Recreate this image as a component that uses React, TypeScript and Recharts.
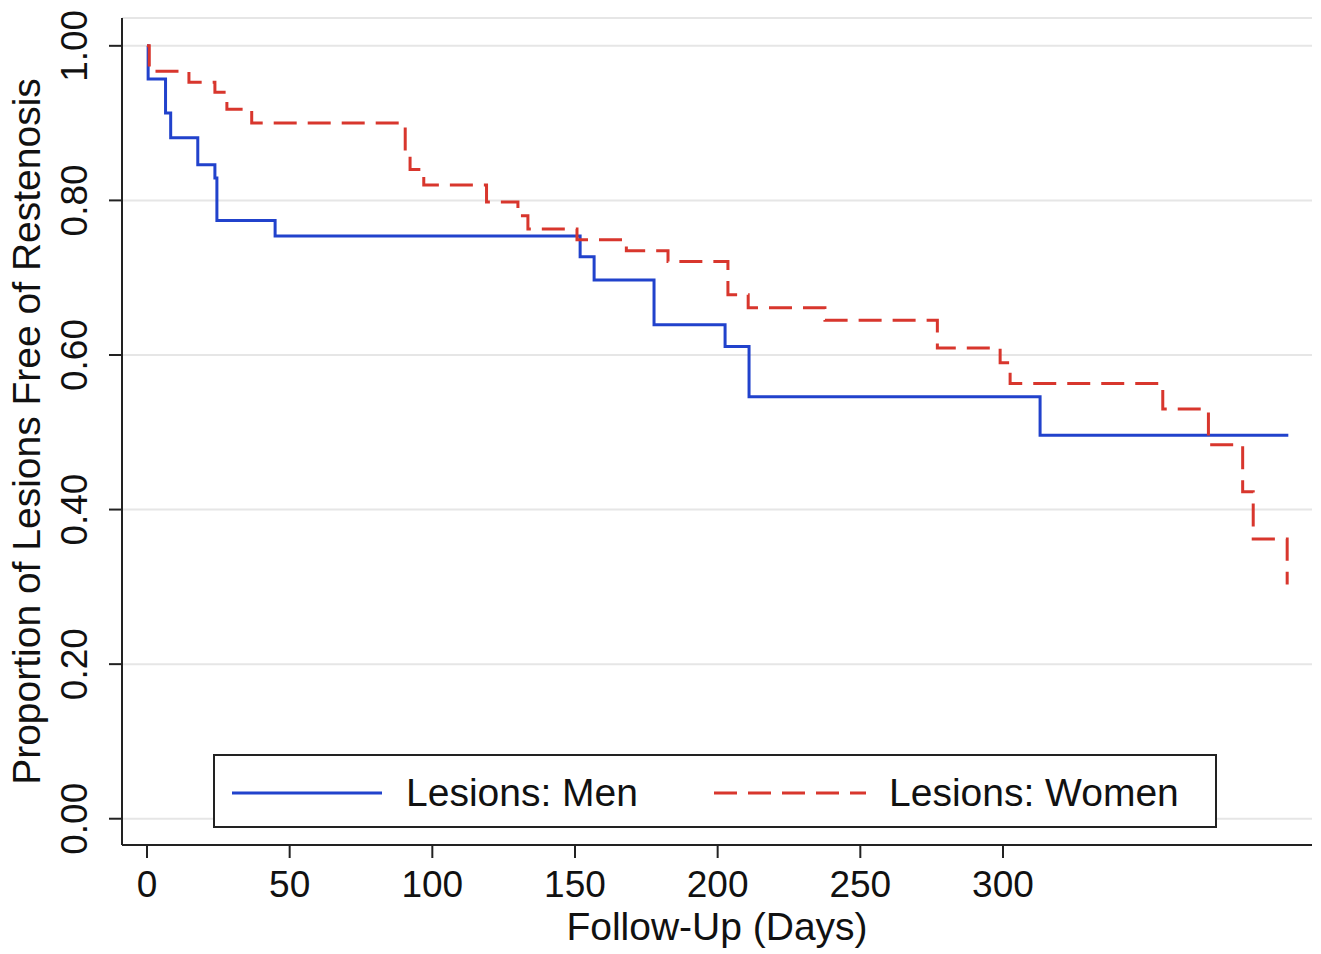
import { CartesianGrid, Legend, Line, LineChart, XAxis, YAxis } from "recharts";

// Kaplan-Meier estimates (day, proportion free of restenosis)
const menDays = [0, 0.4, 6.5, 8.3, 17.8, 23.8, 24.5, 44.9, 151.8, 156.7, 177.7, 202.6, 211, 313, 400];
const menSurv = [1.0, 0.957, 0.913, 0.881, 0.846, 0.829, 0.774, 0.754, 0.727, 0.697, 0.639, 0.611, 0.546, 0.496, 0.496];

const womenDays = [
  0, 0.8, 14.7, 23.8, 28, 36.7, 90.5, 92.2, 97, 119, 130, 133.5, 150.7, 168, 182.6, 203.6, 210.7, 237.6, 277, 299,
  302.5, 356, 372, 384, 387.7, 399.6,
];
const womenSurv = [
  1.0, 0.967, 0.953, 0.94, 0.918, 0.9, 0.862, 0.84, 0.82, 0.798, 0.78, 0.763, 0.749, 0.735, 0.721, 0.678, 0.661,
  0.645, 0.609, 0.59, 0.563, 0.53, 0.484, 0.423, 0.362, 0.303,
];

const xTicks = [0, 50, 100, 150, 200, 250, 300];
const yTicks = [0, 0.2, 0.4, 0.6, 0.8, 1.0];

const menData = menDays.map((t, i) => ({ t, s: menSurv[i] }));
const womenData = womenDays.map((t, i) => ({ t, s: womenSurv[i] }));

const FONT = "'Liberation Sans', Arial, Helvetica, sans-serif";
const BLUE = "#2142cc";
const RED = "#d8362d";
const INK = "#111";

function YTick({ x, y, payload }: any) {
  const bx = x - 22;
  return (
    <text
      x={bx}
      y={y}
      transform={`rotate(-90, ${bx}, ${y})`}
      textAnchor="middle"
      fontSize={37}
      fontFamily={FONT}
      fill={INK}
    >
      {Number(payload.value).toFixed(2)}
    </text>
  );
}

function YLabel({ viewBox }: any) {
  const lx = viewBox.x + 40;
  const ly = viewBox.y + viewBox.height / 2;
  return (
    <text
      x={lx}
      y={ly}
      transform={`rotate(-90, ${lx}, ${ly})`}
      textAnchor="middle"
      fontSize={39}
      fontFamily={FONT}
      fill={INK}
    >
      Proportion of Lesions Free of Restenosis
    </text>
  );
}

function LegendBox() {
  return (
    <div
      style={{
        boxSizing: "border-box",
        width: 1004,
        height: 74,
        border: "2px solid #222",
        background: "#fff",
        position: "relative",
      }}
    >
      <svg width={1004} height={74} style={{ position: "absolute", left: -2, top: -2 }}>
        <line x1={19} x2={169} y1={39} y2={39} stroke={BLUE} strokeWidth={3} />
        <line x1={501} x2={653} y1={39} y2={39} stroke={RED} strokeWidth={3} strokeDasharray="23 11" />
        <text x={193} y={52} fontSize={39} fontFamily={FONT} fill={INK}>
          Lesions: Men
        </text>
        <text x={676} y={52} fontSize={39} fontFamily={FONT} fill={INK}>
          Lesions: Women
        </text>
      </svg>
    </div>
  );
}

export default function App() {
  return (
    <div style={{ width: 1321, height: 954, background: "#fff" }}>
      <style>{`body{margin:0}`}</style>
      <LineChart width={1321} height={954} margin={{ top: 18, right: 9, left: 0, bottom: 0 }}>
        <CartesianGrid vertical={false} stroke="#e6e6e6" strokeWidth={2} />
        <XAxis
          type="number"
          dataKey="t"
          domain={[-8.76, 408.3]}
          ticks={xTicks}
          allowDataOverflow
          height={109}
          tickSize={13}
          tickMargin={13}
          stroke="#222"
          strokeWidth={2}
          tick={{ fontSize: 37, fontFamily: FONT, fill: INK }}
          label={{
            value: "Follow-Up (Days)",
            position: "insideBottom",
            offset: 14,
            fontSize: 39,
            fontFamily: FONT,
            fill: INK,
          }}
        />
        <YAxis
          type="number"
          dataKey="s"
          domain={[-0.034, 1.036]}
          ticks={yTicks}
          allowDataOverflow
          width={122}
          tickSize={13}
          tickMargin={0}
          stroke="#222"
          strokeWidth={2}
          tick={<YTick />}
          label={<YLabel />}
        />
        <Legend
          layout="vertical"
          align="center"
          verticalAlign="middle"
          wrapperStyle={{ left: 213, top: 754, width: 1004, height: 74 }}
          content={() => <LegendBox />}
        />
        <Line
          data={menData}
          dataKey="s"
          type="stepAfter"
          stroke={BLUE}
          strokeWidth={3}
          dot={false}
          isAnimationActive={false}
          name="Lesions: Men"
        />
        <Line
          data={womenData}
          dataKey="s"
          type="stepAfter"
          stroke={RED}
          strokeWidth={3}
          strokeDasharray="23 11"
          dot={false}
          isAnimationActive={false}
          name="Lesions: Women"
        />
      </LineChart>
    </div>
  );
}
